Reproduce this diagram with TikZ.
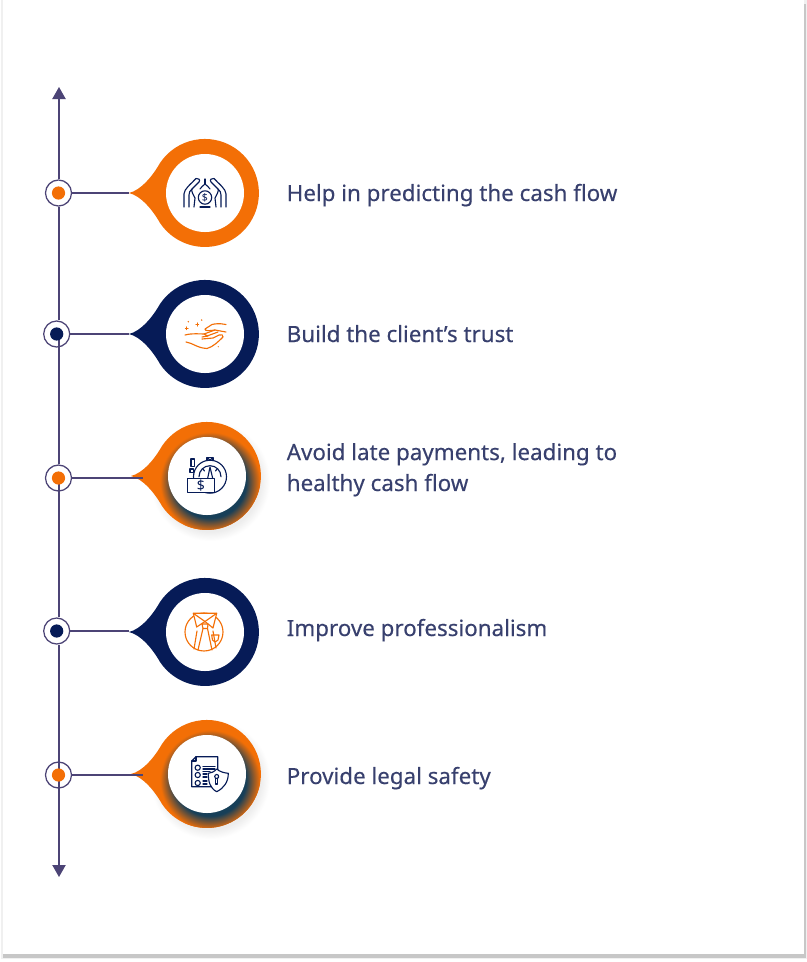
\documentclass[tikz,border=0pt]{standalone}
\usepackage{fontspec}
\setmainfont{Noto Sans}
\newfontfamily\labelfont{Noto Sans}[FakeBold=0.25]
\usetikzlibrary{arrows.meta}

\definecolor{pinorange}{HTML}{F36F06}
\definecolor{pinnavy}{HTML}{061B57}
\definecolor{labeltext}{HTML}{38406E}
\definecolor{axisblue}{HTML}{4C4476}
\definecolor{shadedark}{HTML}{173F58}
\definecolor{softgrey}{HTML}{EDEDED}

\pgfdeclareradialshading{ringshade}{\pgfpoint{0bp}{0bp}}{color(0bp)=(shadedark); color(18bp)=(shadedark); color(25bp)=(pinorange); color(50bp)=(pinorange)}
\pgfdeclareradialshading{softshade}{\pgfpoint{0bp}{0bp}}{color(0bp)=(softgrey); color(21bp)=(softgrey); color(25bp)=(white); color(50bp)=(white)}

\newcommand{\pinpath}{(-76,0) .. controls (-64,-3) and (-53,-16) .. (-45,-30) arc (213.7:506.3:54) .. controls (-53,16) and (-64,3) .. (-76,0) -- cycle}

\tikzset{
  ring/.style={circle,draw=axisblue,fill=white,line width=0.9pt,minimum size=0.65cm,inner sep=0pt},
  dot/.style={circle,minimum size=0.33cm,inner sep=0pt},
  hole/.style={circle,fill=white,minimum size=1.95cm,inner sep=0pt},
  axisline/.style={draw=axisblue,line width=1.1pt},
  linkline/.style={draw=axisblue,line width=0.9pt},
  label/.style={anchor=base west,align=left,inner sep=0pt,text=labeltext,font=\labelfont\fontsize{15.9}{22}\selectfont},
  icon/.style={line width=0.8pt,line cap=round,line join=round}
}

\begin{document}
\begin{tikzpicture}[x=0.025cm,y=-0.025cm]
      \useasboundingbox (0,0) rectangle (807,962);

      % paper
      \fill[black!6] (1.5,0) rectangle (806.5,959);
      \fill[black!22] (3,4) rectangle (805.5,957.5);
      \fill[white] (3,0) rectangle (803.5,954);

      \coordinate (axistop) at (59,87);
      \coordinate (axisbot) at (59,877);

      \node[ring] (ring1) at (58.5,193){};
      \node[ring] (ring2) at (56.7,334){};
      \node[ring] (ring3) at (58.5,478){};
      \node[ring] (ring4) at (56.7,631){};
      \node[ring] (ring5) at (58.5,775){};

      \draw[axisline,{Triangle[width=0.33cm,length=0.3cm]}-] (axistop) -- (axistop |- ring1.north);
      \draw[axisline] (axistop |- ring1.south) -- (axistop |- ring2.north);
      \draw[axisline] (axistop |- ring2) -- (axistop |- ring3.north);
      \draw[axisline] (axistop |- ring3) -- (axistop |- ring4.north);
      \draw[axisline] (axistop |- ring4.south) -- (axistop |- ring5);
      \draw[axisline,-{Triangle[width=0.33cm,length=0.3cm]}] (axistop |- ring5) -- (axisbot);

      \node[dot,fill=pinorange] (dot1) at (58.5,193){};
      \node[dot,fill=pinnavy] (dot2) at (56.7,334){};
      \node[dot,fill=pinorange] (dot3) at (58.5,478){};
      \node[dot,fill=pinnavy] (dot4) at (56.7,631){};
      \node[dot,fill=pinorange] (dot5) at (58.5,775){};

      % pins
      \shade[shading=softshade] (210,481) circle (60);
      \shade[shading=softshade] (210,779) circle (60);

      \begin{scope}[shift={(205,193)}]
        \fill[pinorange] \pinpath;
        \node[hole] (hole1) at (0,0){};
        \coordinate (tip1) at (-76,0);
      \end{scope}
      \begin{scope}[shift={(205,334)}]
        \fill[pinnavy] \pinpath;
        \node[hole] (hole2) at (0,0){};
        \coordinate (tip2) at (-76,0);
      \end{scope}
      \begin{scope}[shift={(207,476)}]
        \fill[pinorange] \pinpath;
        \begin{scope}
          \clip \pinpath;
          \shade[shading=ringshade] (3,6) circle (50);
        \end{scope}
        \node[hole] (hole3) at (0,0){};
        \coordinate (tip3) at (-64,2);
      \end{scope}
      \begin{scope}[shift={(205,632)}]
        \fill[pinnavy] \pinpath;
        \node[hole] (hole4) at (0,0){};
        \coordinate (tip4) at (-76,-1);
      \end{scope}
      \begin{scope}[shift={(207,774)}]
        \fill[pinorange] \pinpath;
        \begin{scope}
          \clip \pinpath;
          \shade[shading=ringshade] (3,6) circle (50);
        \end{scope}
        \node[hole] (hole5) at (0,0){};
        \coordinate (tip5) at (-64,1);
      \end{scope}

      \draw[linkline] (ring1) -- (tip1);
      \draw[linkline] (ring2) -- (tip2);
      \draw[linkline] (ring3) -- (tip3);
      \draw[linkline] (ring4) -- (tip4);
      \draw[linkline] (ring5) -- (tip5);

      % icon: hands round a coin
      \begin{scope}[shift={(205,193)},icon,draw=pinnavy]
        \foreach \side in {1,-1}{
          \begin{scope}[xscale=\side]
            \draw (-21,14) -- (-21,1) .. controls (-21,-4) and (-14,-9) .. (-9,-14.5) .. controls (-7,-15.5) and (-4,-13) .. (-6,-11) -- (-13,-4) .. controls (-14,-2) and (-12,1) .. (-10,5) -- (-11,14);
            \draw (-16,14) -- (-16,2) .. controls (-16,-1) and (-15,-2) .. (-13,-4);
            \draw (-5,-4) .. controls (-4,-6) and (-2,-7) .. (0,-9);
          \end{scope}
        }
        \draw (0,-14) -- (0,-9);
        \draw (0,4.5) circle (6.7);
        \draw (-5,14) -- (5,14);
        \node[inner sep=0pt,text=pinnavy,font=\fontsize{7.5}{8}\selectfont] (coin) at (0,4.5){\$};
      \end{scope}

      % icon: giving hand
      \begin{scope}[shift={(205,334)},icon,draw=pinorange]
        \draw (-20,1) .. controls (-12,-1) and (-6,0) .. (-1,0) -- (3,2) -- (-3,3);
        \draw (-19,8) .. controls (-12,9) and (-8,14) .. (2,14.5) .. controls (8,13) and (14,7) .. (18,3) .. controls (19,1) and (16,0) .. (14,1) -- (8,4) -- (-3,5);
        \draw (-1,0) -- (10,-4);
        \draw (2,2) -- (13,-2);
        \draw (21,-9.5) .. controls (14,-11) and (9,-10) .. (7,-9.5) -- (0,-5) .. controls (0,-3) and (3,-3) .. (10,-4) -- (21,-2);
        \draw (-9,-9.5) -- (-6.5,-9.5) (-7.7,-11) -- (-7.7,-8);
        \draw (-19.5,-5.7) -- (-17,-5.7) (-18.3,-7) -- (-18.3,-4.4);
        \fill[pinorange] (-16.7,-12.3) circle (0.8);
        \fill[pinorange] (-3.3,-14) circle (0.8);
        \fill[pinorange] (13.3,12.7) circle (0.6);
      \end{scope}

      % icon: stopwatch and bill
      \begin{scope}[shift={(207,476)},icon,draw=pinnavy]
        \draw (3,0.7) circle (16.5);
        \draw (3,0.7) ++(-11,0) arc (180:360:11);
        \draw (0,-18.5) rectangle (6,-15.5);
        \draw (1,-18.5) arc (180:360:2 and -2.2);
        \draw (3,-9) -- (0.7,2.3) (3,-9) -- (5.7,2.3);
        \draw (-4,-7) -- (-2.5,-5) (10,-7) -- (8.5,-5);
        \fill[white] (-19.3,2.3) rectangle (7.3,16.7);
        \draw (-19.3,2.3) rectangle (7.3,16.7);
        \draw (-16,-17) rectangle (-12.7,-9.3);
        \draw (-17,-7) rectangle (-13.7,-3.7);
        \node[inner sep=0pt,text=pinnavy,font=\fontsize{10}{11}\selectfont] (bill) at (-6,9.7){\$};
      \end{scope}

      % icon: shirt and tie
      \begin{scope}[shift={(205,632)},icon,draw=pinorange]
        \draw (-1,0) circle (19);
        \filldraw[fill=white] (-11.7,-18.7) -- (11.7,-18.7) -- (8,-4) -- (0,-10.5) -- (-8.3,-5) -- cycle;
        \draw (-11.7,-18.7) -- (0,-10.5) -- (11.7,-18.7);
        \draw (-3,-8) -- (3,-8) -- (2.5,-3.5) -- (-2,-3.5) -- cycle;
        \draw (-2,-3.5) -- (-7,18) (2.5,-3.5) -- (7,18);
        \draw (-8,-1) -- (-11,17) (8,-1) -- (11,16);
        \draw (6.7,3) -- (14,3) -- (13,8) -- (10,10) -- (7.5,8) -- cycle;
      \end{scope}

      % icon: checklist and shield
      \begin{scope}[shift={(207,774)},icon,draw=pinnavy]
        \draw (-11,-17.3) -- (10.7,-17.3) -- (10.7,12.7) -- (-15.3,12.7) -- (-15.3,-13) -- cycle;
        \draw (-11,-17.3) -- (-11,-13) -- (-15.3,-13);
        \draw (-9.3,-6.3) circle (2.6);
        \draw (-9.3,1) circle (2.6);
        \draw (-9.3,9) circle (2.6);
        \draw (-4,-7.5) -- (8,-7.5) (-4,-5) -- (8,-5) (-4,-2.5) -- (3,-2.5);
        \draw (-4,0) -- (0,0) (-4,3) -- (0,3);
        \draw (-4,7) -- (0,7) (-4,10) -- (0,10);
        \filldraw[fill=white] (9.7,-5) .. controls (13,-2) and (18,-1) .. (21.3,-0.7) .. controls (21.3,8) and (17,14) .. (9.7,17.7) .. controls (3,14) and (1.3,8) .. (1.3,-0.7) .. controls (4,-1) and (7,-2) .. (9.7,-5) -- cycle;
        \draw (9.7,2.5) circle (2);
        \draw (8.7,4.3) -- (8.7,10) -- (10.7,10) -- (10.7,4.3);
      \end{scope}

      \node[label] (text1) at (286.5,201){Help in predicting the cash flow};
      \node[label] (text2) at (286.5,342){Build the client’s trust};
      \node[label] (text3) at (286.5,491){Avoid late payments, leading to\\[0.01pt]healthy cash flow};
      \node[label] (text4) at (286.5,636){Improve professionalism};
      \node[label] (text5) at (286.5,784){Provide legal safety};
\end{tikzpicture}
\end{document}
